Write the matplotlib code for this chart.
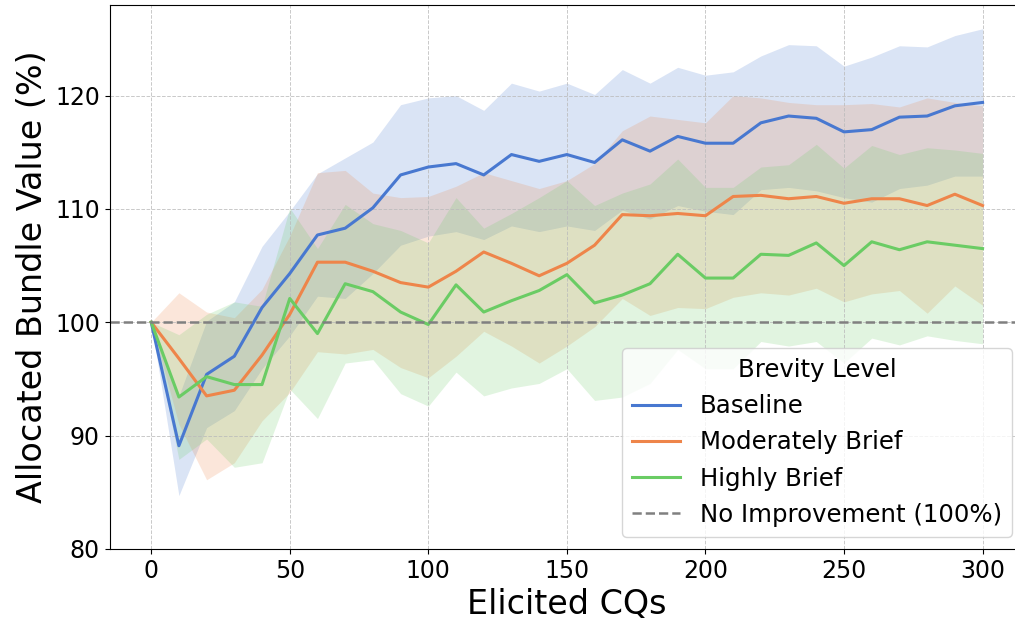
import numpy as np
import matplotlib
matplotlib.use("Agg")
import matplotlib.pyplot as plt

# Elicited CQs (x) and per-level mean / spread of allocated bundle value (%)
cqs = list(range(0, 301, 10))

baseline_mean = [100.0, 89.1, 95.4, 97.0, 101.3, 104.3, 107.7, 108.3, 110.1, 113.0,
                 113.7, 114.0, 113.0, 114.8, 114.2, 114.8, 114.1, 116.1, 115.1, 116.4,
                 115.8, 115.8, 117.6, 118.2, 118.0, 116.8, 117.0, 118.1, 118.2, 119.1, 119.4]
baseline_std = [0.0, 4.4, 4.7, 4.8, 5.4, 5.5, 5.4, 6.2, 5.8, 6.2,
                6.1, 6.0, 5.7, 6.3, 6.2, 6.3, 6.0, 6.2, 6.0, 6.1,
                6.0, 6.3, 5.9, 6.3, 6.4, 5.8, 6.4, 6.3, 6.1, 6.2, 6.5]

moderate_mean = [100.0, 96.8, 93.5, 94.0, 97.1, 100.7, 105.3, 105.3, 104.5, 103.5,
                 103.1, 104.5, 106.2, 105.2, 104.1, 105.2, 106.8, 109.5, 109.4, 109.6,
                 109.4, 111.1, 111.2, 110.9, 111.1, 110.5, 110.9, 110.9, 110.3, 111.3, 110.3]
moderate_std = [0.0, 5.8, 7.4, 6.4, 5.8, 6.9, 7.9, 8.1, 6.9, 7.5,
                8.0, 7.5, 7.0, 7.3, 7.7, 7.3, 7.2, 7.4, 8.8, 8.3,
                8.2, 8.9, 8.6, 8.5, 8.1, 8.7, 8.4, 8.1, 9.5, 8.1, 8.8]

high_mean = [100.0, 93.4, 95.2, 94.5, 94.5, 102.1, 99.0, 103.4, 102.7, 100.9,
             99.8, 103.3, 100.9, 101.9, 102.8, 104.2, 101.7, 102.4, 103.4, 106.0,
             103.9, 103.9, 106.0, 105.9, 107.0, 105.0, 107.1, 106.4, 107.1, 106.8, 106.5]
high_std = [0.0, 5.5, 5.5, 7.3, 6.9, 8.0, 7.5, 7.0, 6.0, 7.2,
            7.2, 7.7, 7.4, 7.7, 8.2, 8.3, 8.6, 9.0, 8.8, 8.4,
            8.0, 8.0, 7.7, 8.0, 8.7, 8.6, 8.5, 8.4, 8.3, 8.4, 8.4]

levels = ["Baseline", "Moderately Brief", "Highly Brief"]
colors = ["#4878d0", "#ee854a", "#6acc64"]

fig, ax = plt.subplots(figsize=(10.15, 6.23), dpi=100)
# right edge sits just past the canvas, as in the cropped original
fig.subplots_adjust(left=0.108, right=1.009, top=0.992, bottom=0.119)

x = np.array(cqs)
for name, mean, std, col in zip(levels,
                                [baseline_mean, moderate_mean, high_mean],
                                [baseline_std, moderate_std, high_std],
                                colors):
    m = np.array(mean)
    s = np.array(std)
    ax.plot(x, m, color=col, lw=2.2, label=name)
    ax.fill_between(x, m - s, m + s, color=col, alpha=0.2, lw=0)

ax.axhline(100, color="gray", lw=1.8, linestyle="--", label="No Improvement (100%)")

ax.set_xlim(-15, 315)
ax.set_ylim(80, 128)
ax.set_yticks([80, 90, 100, 110, 120])
ax.set_xlabel("Elicited CQs", fontsize=24)
ax.set_ylabel("Allocated Bundle Value (%)", fontsize=24)
ax.tick_params(labelsize=17)
ax.grid(True, linestyle="--", color="#bbbbbb", lw=0.7, alpha=0.8)

leg = ax.legend(title="Brevity Level", fontsize=17.6, title_fontsize=17.6,
                loc="lower right")

fig.savefig("out.png", dpi=100)
